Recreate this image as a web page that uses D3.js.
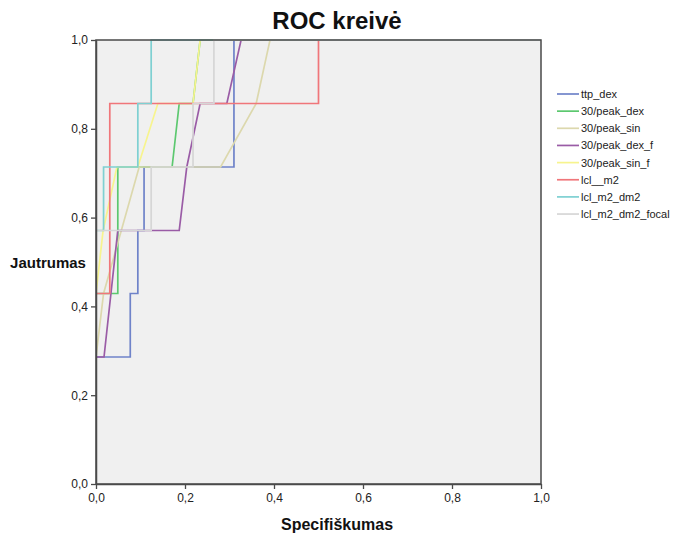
<!DOCTYPE html>
<html><head><meta charset="utf-8">
<script src="https://cdn.jsdelivr.net/npm/d3@7"></script>
<style>body{margin:0;background:#fff;} svg{display:block;font-family:"Liberation Sans",Arial,sans-serif;}</style>
</head><body>
<svg id="chart" width="684" height="535"></svg>
<script>
const chartTitle = "ROC kreivė";
const xTitle = "Specifiškumas";
const yTitle = "Jautrumas";
const tickValues = [0, 0.2, 0.4, 0.6, 0.8, 1.0];
const tickLabels = ["0,0", "0,2", "0,4", "0,6", "0,8", "1,0"];
const seriesNames = ["ttp_dex", "30/peak_dex", "30/peak_sin", "30/peak_dex_f", "30/peak_sin_f", "lcl__m2", "lcl_m2_dm2", "lcl_m2_dm2_focal"];
const seriesColors = ["#6f83c9", "#5cc86f", "#dcd8ad", "#9a5ca6", "#f7f48e", "#f0767a", "#7ed0d2", "#d6d6d6"];

const ttp_dex = [[0,0],[0,0.286],[0.077,0.286],[0.077,0.429],[0.094,0.429],[0.094,0.571],[0.108,0.571],[0.108,0.714],[0.310,0.714],[0.310,1],[1,1]];
const peak_dex = [[0,0],[0,0.429],[0.049,0.429],[0.049,0.714],[0.171,0.714],[0.187,0.857],[0.218,0.857],[0.234,1],[1,1]];
const peak_sin = [[0,0],[0,0.286],[0.017,0.429],[0.097,0.714],[0.280,0.714],[0.36,0.857],[0.391,1],[1,1]];
const peak_dex_f = [[0,0],[0,0.286],[0.018,0.286],[0.049,0.571],[0.187,0.571],[0.204,0.714],[0.234,0.857],[0.294,0.857],[0.326,1],[1,1]];
const peak_sin_f = [[0,0],[0,0.429],[0.016,0.571],[0.047,0.714],[0.094,0.714],[0.139,0.857],[0.218,0.857],[0.234,1],[1,1]];
const lcl_m2 = [[0,0],[0,0.429],[0.031,0.429],[0.031,0.857],[0.5,0.857],[0.5,1],[1,1]];
const lcl_m2_dm2 = [[0,0],[0,0.571],[0.017,0.571],[0.017,0.714],[0.094,0.714],[0.094,0.857],[0.124,0.857],[0.124,1],[1,1]];
const lcl_m2_dm2_focal = [[0,0],[0,0.571],[0.124,0.571],[0.124,0.714],[0.218,0.714],[0.218,0.857],[0.265,0.857],[0.265,1],[1,1]];
const seriesData = [ttp_dex, peak_dex, peak_sin, peak_dex_f, peak_sin_f, lcl_m2, lcl_m2_dm2, lcl_m2_dm2_focal];

const svg = d3.select("#chart");
const L = 96, R = 541, T = 40, B = 484;
const x = d3.scaleLinear().domain([0,1]).range([L,R]);
const y = d3.scaleLinear().domain([0,1]).range([B,T]);

svg.append("text").attr("x", 337).attr("y", 29).attr("text-anchor","middle")
  .attr("font-size", 24).attr("font-weight","bold").attr("fill","#111").text(chartTitle);

svg.append("rect").attr("x", L).attr("y", T).attr("width", R-L).attr("height", B-T).attr("fill", "#f0f0f0");

svg.append("clipPath").attr("id","pc").append("rect").attr("x", L).attr("y", T-2).attr("width", R-L).attr("height", B-T+2);
const line = d3.line().x(d => x(d[0])).y(d => y(d[1]));
const g = svg.append("g").attr("clip-path","url(#pc)");
seriesData.forEach((pts, i) => {
  g.append("path").datum(pts).attr("d", line).attr("fill","none")
    .attr("stroke", seriesColors[i]).attr("stroke-width", 1.7);
});

svg.append("rect").attr("x", L).attr("y", T).attr("width", R-L).attr("height", B-T)
  .attr("fill","none").attr("stroke","#4a4a4a").attr("stroke-width",1.5);

const xAxis = d3.axisBottom(x).tickValues(tickValues).tickFormat((d,i) => tickLabels[i]).tickSize(5).tickSizeOuter(0);
const gx = svg.append("g").attr("transform", `translate(0,${B})`).call(xAxis);
gx.select(".domain").attr("stroke","#4a4a4a").attr("stroke-width",1.5);
gx.selectAll(".tick line").attr("stroke","#4a4a4a").attr("stroke-width",1.3);
gx.selectAll(".tick text").attr("font-size", 12).attr("fill","#222").attr("font-family","Liberation Sans, Arial, sans-serif").attr("dy","0.85em");

const yAxis = d3.axisLeft(y).tickValues(tickValues).tickFormat((d,i) => tickLabels[i]).tickSize(5).tickSizeOuter(0);
const gy = svg.append("g").attr("transform", `translate(${L},0)`).call(yAxis);
gy.select(".domain").attr("stroke","#4a4a4a").attr("stroke-width",1.5);
gy.selectAll(".tick line").attr("stroke","#4a4a4a").attr("stroke-width",1.3);
gy.selectAll(".tick text").attr("font-size", 12).attr("fill","#222").attr("font-family","Liberation Sans, Arial, sans-serif");

svg.append("text").attr("x", 337).attr("y", 530).attr("text-anchor","middle")
  .attr("font-size", 16).attr("font-weight","bold").attr("fill","#111").text(xTitle);
svg.append("text").attr("x", 48).attr("y", 268).attr("text-anchor","middle")
  .attr("font-size", 15).attr("font-weight","bold").attr("fill","#111").text(yTitle);

const leg = svg.append("g");
seriesNames.forEach((n, i) => {
  const yy = 94 + i * 17.15;
  leg.append("line").attr("x1", 557).attr("x2", 579).attr("y1", yy).attr("y2", yy)
    .attr("stroke", seriesColors[i]).attr("stroke-width", 1.7);
  leg.append("text").attr("x", 581).attr("y", yy + 4).attr("font-size", 11).attr("fill","#222").text(n);
});
</script>
</body></html>
